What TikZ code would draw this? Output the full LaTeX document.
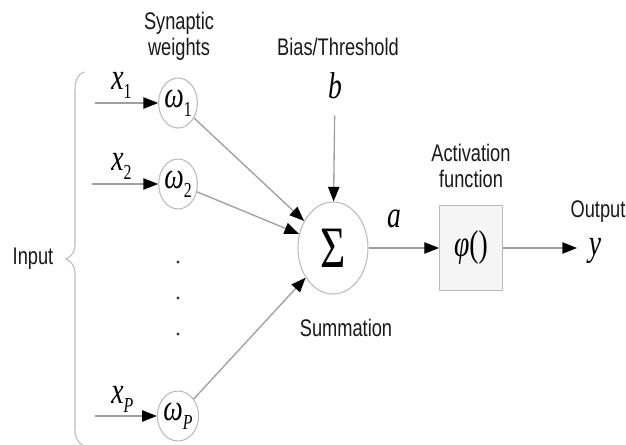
\documentclass[tikz,border=0pt]{standalone}
\usepackage{fontspec}
\setmainfont{Liberation Sans}
\newfontfamily\labf{Liberation Sans}[FakeStretch=0.76]
\newfontfamily\mf{Liberation Serif}[FakeStretch=0.74]
\usetikzlibrary{arrows.meta,shapes.geometric}
\newcommand\mi[1]{{\mf\itshape #1}}
\newcommand\subs[1]{\raisebox{-7pt}{\fontsize{16}{16}\selectfont\mf\upshape #1}}
\definecolor{lgray}{HTML}{BBBBBB}
\definecolor{cgray}{HTML}{A0A0A0}
\definecolor{boxfill}{HTML}{F5F5F5}
\begin{document}
\begin{tikzpicture}[x=0.75pt,y=-0.75pt,
  lab/.style={font=\labf\fontsize{18}{19.5}\selectfont, align=center, inner sep=0pt, text=black!90},
  mth/.style={font=\mf\itshape\fontsize{28}{28}\selectfont, inner sep=0pt},
  wnode/.style={ellipse, draw=lgray, line width=0.8pt, minimum width=28.5pt, minimum height=37.5pt, inner sep=0pt, font=\mf\itshape\fontsize{28}{28}\selectfont},
  snode/.style={ellipse, draw=lgray, line width=0.8pt, minimum width=52.5pt, minimum height=69pt, inner sep=0pt, font=\mf\fontsize{44}{44}\selectfont},
  fbox/.style={rectangle, draw=lgray, fill=boxfill, line width=0.8pt, minimum width=47.25pt, minimum height=63.75pt, inner sep=0pt, font=\mf\fontsize{28}{28}\selectfont},
  conn/.style={draw=cgray, line width=1pt, -{Triangle[length=11pt,width=8.5pt,color=black]}},
  dotn/.style={circle, fill=black!80, inner sep=0pt, minimum size=2.6pt},
  brace/.style={draw=lgray, line width=0.8pt}
]
\fill[white] (0,0) rectangle (626,444);
\useasboundingbox (0,0) rectangle (626,444);

% brace
\draw[brace] (84,72) .. controls (78,74) and (75,80) .. (75,90) -- (75,244)
  .. controls (75,252) and (72,256) .. (66,259)
  .. controls (72,262) and (75,266) .. (75,274) -- (75,430)
  .. controls (75,438) and (78,443) .. (84,446);
\node[lab] (input) at (33,259) {Input};

% labels
\node[lab] (syn) at (179,36) {Synaptic\\weights};
\node[lab] (bias) at (338,47) {Bias/Threshold};
\node[lab] (actl) at (471,166) {Activation\\function};
\node[lab] (outl) at (598,212) {Output};
\node[lab] (suml) at (346,328) {Summation};

% weights
\node[wnode] (w1) at (178,103) {ω\subs{1}};
\node[wnode] (w2) at (178,184) {ω\subs{2}};
\node[wnode] (wp) at (178,416) {ω\subs{\itshape P}};

% inputs
\node[mth, anchor=base west] (x1) at (111,89) {x\subs{1}};
\node[mth, anchor=base west] (x2) at (111,170) {x\subs{2}};
\node[mth, anchor=base west] (xp) at (111,403) {x\subs{\itshape P}};
\coordinate (i1) at (95,103);
\coordinate (i2) at (92,184);
\coordinate (ip) at (95,416);
\draw[conn] (i1) -- (w1);
\draw[conn] (i2) -- (w2);
\draw[conn] (ip) -- (wp);

% dots
\node[dotn] (d1) at (178,262) {};
\node[dotn] (d2) at (178,298) {};
\node[dotn] (d3) at (178,334) {};

% summation
\node[snode] (sig) at (333,248) {Σ};
\node[mth] (b) at (335,86) {b};
\draw[conn, shorten <=12pt] (b) -- (sig);
\draw[conn] (w1) -- (sig);
\draw[conn] (w2) -- (sig);
\draw[conn] (wp) -- (sig);

% activation
\node[fbox] (act) at (471,248) {\mi{φ}()};
\node[mth] (a) at (394,219) {a};
\draw[conn] (sig) -- (act);
\coordinate (o) at (577,248);
\draw[conn] (act) -- (o);
\node[mth] (y) at (595,251) {y};
\end{tikzpicture}
\end{document}
